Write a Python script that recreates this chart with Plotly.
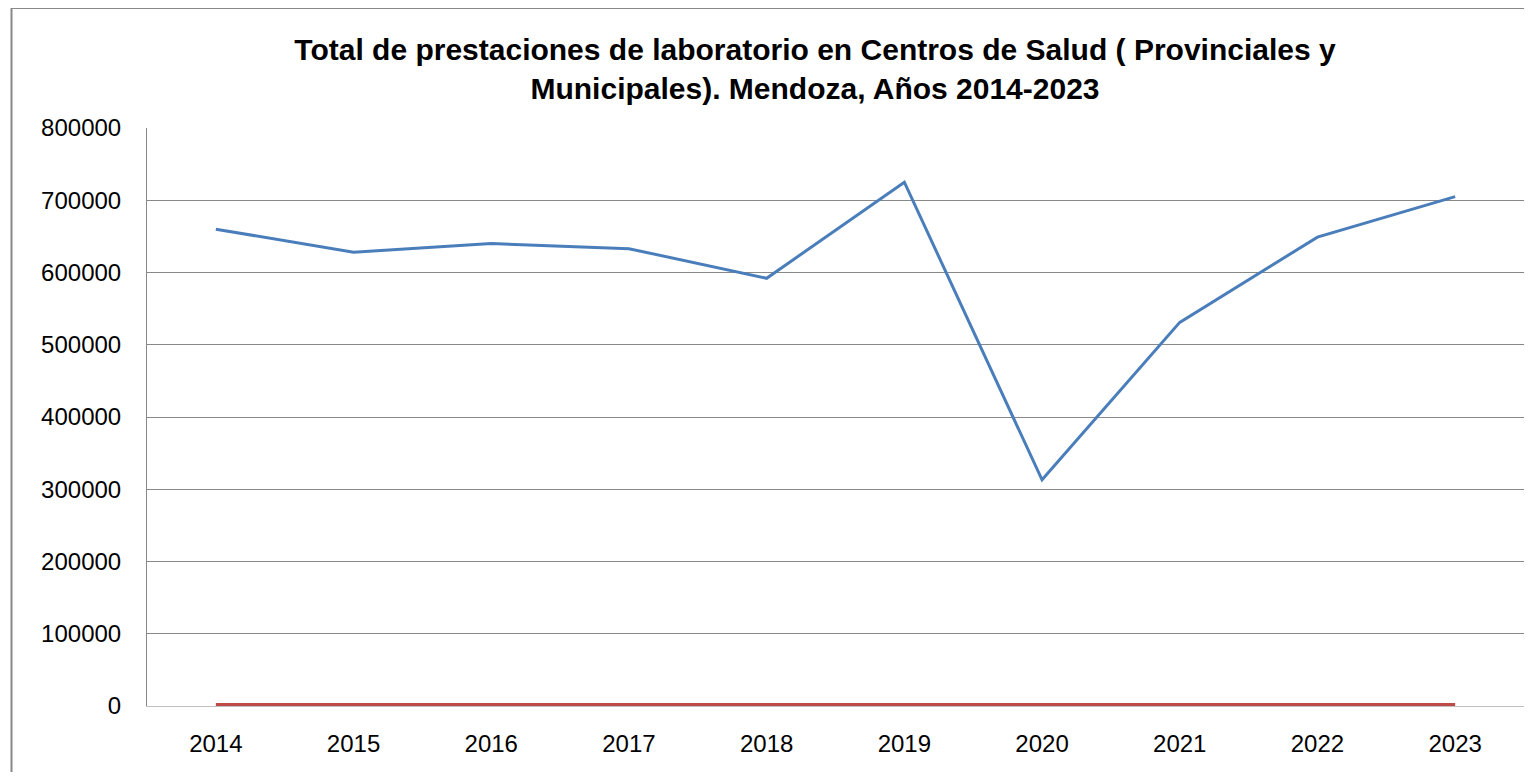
import plotly.graph_objects as go

years = ["2014", "2015", "2016", "2017", "2018", "2019", "2020", "2021", "2022", "2023"]
prestaciones = [660000, 628000, 640000, 633000, 592000, 725000, 313000, 531000, 649000, 705000]
anio_valor = [2014, 2015, 2016, 2017, 2018, 2019, 2020, 2021, 2022, 2023]
y_ticks = [0, 100000, 200000, 300000, 400000, 500000, 600000, 700000, 800000]

# page body has an 8px margin; figure coords = screen coords - 8
W, H = 1516, 764
L, R, T, B = 139, 0, 120, 66
PW, PH = W - L - R, H - T - B

fig = go.Figure()
fig.add_trace(go.Scatter(x=years, y=prestaciones, mode="lines",
                         line=dict(color="#4a7ebb", width=3), showlegend=False))
fig.add_trace(go.Scatter(x=years, y=anio_valor, mode="lines",
                         line=dict(color="#be4b48", width=3), showlegend=False))

fig.update_layout(
    width=W, height=H,
    margin=dict(l=L, r=R, t=T, b=B),
    paper_bgcolor="white", plot_bgcolor="white",
    font=dict(family="Liberation Sans, Arial", color="black", size=24),
    title=dict(
        text="<b>Total de prestaciones de laboratorio en Centros de Salud ( Provinciales y<br>Municipales). Mendoza, Años 2014-2023</b>",
        x=807 / W, xanchor="center", y=1 - 52 / H, yanchor="top",
        font=dict(size=30, family="Liberation Sans, Arial", color="black"),
    ),
    xaxis=dict(
        type="category", range=[-0.5, 9.5], showgrid=False,
        showline=True, linecolor="#bfbfbf", linewidth=1,
        ticks="", tickfont=dict(size=24), ticklabelstandoff=16,
    ),
    yaxis=dict(
        range=[0, 800000], tickvals=y_ticks, ticktext=[str(v) for v in y_ticks],
        showgrid=True, gridcolor="#888888", gridwidth=1,
        showline=True, linecolor="#888888", linewidth=1,
        zeroline=False, ticks="", tickfont=dict(size=24), ticklabelstandoff=20,
    ),
    shapes=[dict(type="rect", xref="paper", yref="paper",
                 x0=(3.5 - L) / PW, x1=(W + 20 - L) / PW,
                 y0=-(H + 20 - (H - B)) / PH,
                 y1=(H - B - 0) / PH,
                 line=dict(color="#888888", width=2), fillcolor="rgba(0,0,0,0)", layer="below")],
)

fig.write_html("out.html")
